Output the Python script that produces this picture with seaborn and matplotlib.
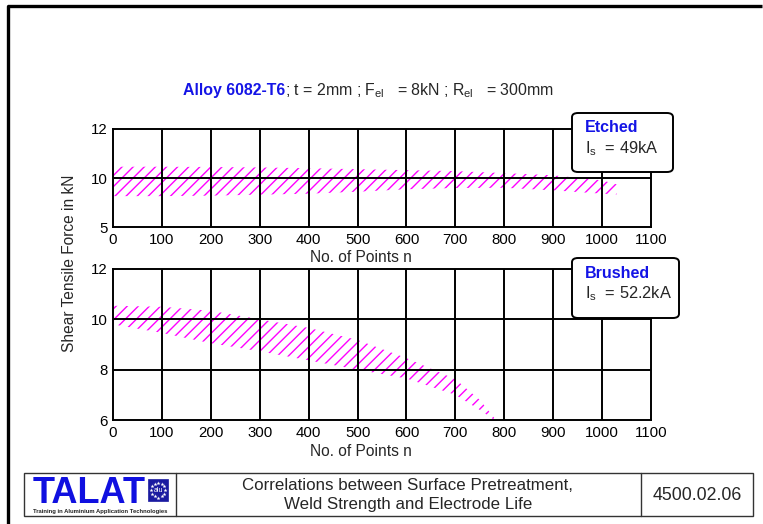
import numpy as np
import matplotlib
matplotlib.use("Agg")
import matplotlib.pyplot as plt
import seaborn as sns
from matplotlib.patches import FancyBboxPatch, Rectangle
from matplotlib.lines import Line2D

# ---- data: scatter bands of shear tensile force vs. number of spot welds ----
etched_n = [0, 100, 200, 300, 400, 500, 600, 700, 800, 900, 1000, 1030]
etched_upper = [10.46, 10.46, 10.45, 10.43, 10.40, 10.36, 10.32, 10.28, 10.20, 10.11, 9.76, 9.35]
etched_lower = [8.15, 8.15, 8.20, 8.30, 8.40, 8.60, 8.85, 8.98, 9.00, 8.74, 8.40, 8.33]

brushed_n = [0, 100, 200, 300, 400, 500, 600, 700, 750, 780]
brushed_upper = [10.54, 10.50, 10.34, 10.00, 9.66, 9.18, 8.46, 7.62, 6.80, 6.07]
brushed_lower = [9.80, 9.46, 9.05, 8.73, 8.37, 8.00, 7.65, 7.00, 6.40, 6.00]

x_ticks = list(range(0, 1101, 100))
etched_yticks = [5, 10, 12]
brushed_yticks = [6, 8, 10, 12]

W, H = 763, 524
sns.set_style("white")
plt.rcParams["font.family"] = ["Liberation Sans", "DejaVu Sans"]
plt.rcParams["mathtext.default"] = "regular"
plt.rcParams["hatch.linewidth"] = 1.0

fig = plt.figure(figsize=(W / 100, H / 100), dpi=100)


def fx(x):
    return x / W


def fy(y):
    return 1 - y / H


def axes_px(left, top, right, bottom):
    return fig.add_axes([fx(left), fy(bottom), (right - left) / W, (bottom - top) / H])


# piecewise axis used for the etched panel: 5..10 and 10..12 get equal height
def _fwd(v):
    v = np.asarray(v, dtype=float)
    return np.where(v >= 10, 1 + (v - 10) / 2, (v - 5) / 5)


def _inv(u):
    u = np.asarray(u, dtype=float)
    return np.where(u >= 1, 10 + 2 * (u - 1), 5 + 5 * u)


MAGENTA = "#ff00ff"
TICK_FS = 10.8
LABEL_FS = 11.2
HATCH = "///"


def style_axes(ax, yticks, ylim, label_y):
    ax.set_xlim(0, 1100)
    ax.set_ylim(*ylim)
    ax.set_xticks(x_ticks)
    ax.set_yticks(yticks)
    ax.tick_params(length=0, labelsize=TICK_FS, pad=4, colors="black")
    for t in x_ticks[1:-1]:
        ax.axvline(t, color="black", lw=1.4, zorder=3)
    for t in yticks[1:-1]:
        ax.axhline(t, color="black", lw=1.4, zorder=3)
    for s in ax.spines.values():
        s.set_color("black")
        s.set_linewidth(1.4)
        s.set_zorder(4)
    ax.set_xlabel("No. of Points n", fontsize=LABEL_FS)
    ax.xaxis.set_label_coords(0.46, label_y)
    ax.set_facecolor("white")


# etched panel
ax1 = axes_px(113, 129, 651, 227)
ax1.set_yscale("function", functions=(_fwd, _inv))
ax1.fill_between(etched_n, etched_lower, etched_upper, facecolor="none",
                 edgecolor=MAGENTA, hatch=HATCH, linewidth=0, zorder=2)
style_axes(ax1, etched_yticks, (5, 12), -0.235)
ax1.yaxis.set_major_formatter(matplotlib.ticker.FuncFormatter(lambda v, p: f"{v:g}"))
ax1.yaxis.set_minor_locator(matplotlib.ticker.NullLocator())

# brushed panel
ax2 = axes_px(113, 269, 651, 420)
ax2.fill_between(brushed_n, brushed_lower, brushed_upper, facecolor="none",
                 edgecolor=MAGENTA, hatch=HATCH, linewidth=0, zorder=2)
style_axes(ax2, brushed_yticks, (6, 12), -0.158)

fig.text(fx(69), fy(263), "Shear Tensile Force in kN", rotation=90,
         ha="center", va="center", fontsize=LABEL_FS)

# heading: bold alloy name followed by the welding parameters on one baseline
HEAD_FS = 11.4
t1 = fig.text(fx(183), fy(95), "Alloy 6082-T6", color="#1414e6", fontweight="bold",
              fontsize=HEAD_FS, ha="left", va="baseline")
fig.canvas.draw()
bb = t1.get_window_extent(renderer=fig.canvas.get_renderer())
fig.text(bb.x1 / fig.bbox.width, fy(95),
         "; t = 2mm ; F$_{el}$   = 8kN ; R$_{el}$   = 300mm",
         fontsize=HEAD_FS, ha="left", va="baseline")


# annotation boxes
def info_box(left, top, right, bottom, title, value):
    box = FancyBboxPatch((fx(left), fy(bottom)), (right - left) / W, (bottom - top) / H,
                         boxstyle="round,pad=0,rounding_size=0.008",
                         transform=fig.transFigure, facecolor="white",
                         edgecolor="black", linewidth=1.4, zorder=10)
    fig.patches.append(box)
    fig.text(fx(left + 13), fy(top + 15), title, color="#1414e6", fontweight="bold",
             fontsize=11.5, ha="left", va="center", zorder=11)
    fig.text(fx(left + 13), fy(top + 36), value, fontsize=11.8,
             ha="left", va="center", zorder=11)


info_box(572, 113, 673, 172, "Etched", "I$_s$  = 49kA")
info_box(572, 258, 679, 318, "Brushed", "I$_s$  = 52.2kA")

# page frame: rule along the top and down the left side
fig.lines.append(Line2D([fx(8), fx(762)], [fy(6), fy(6)], transform=fig.transFigure,
                        color="black", lw=2.4, solid_capstyle="butt"))
fig.lines.append(Line2D([fx(8), fx(8)], [fy(6), fy(524)], transform=fig.transFigure,
                        color="black", lw=2.4))

# footer
FT, FB = 473, 516
fig.patches.append(Rectangle((fx(24), fy(FB)), (753 - 24) / W, (FB - FT) / H,
                             transform=fig.transFigure, facecolor="white",
                             edgecolor="#333333", lw=1.0))
for xd in (176, 641):
    fig.lines.append(Line2D([fx(xd), fx(xd)], [fy(FT), fy(FB)], transform=fig.transFigure,
                            color="#333333", lw=1.0))
fig.text(fx(408), fy(486), "Correlations between Surface Pretreatment,",
         ha="center", va="center", fontsize=12.2)
fig.text(fx(408), fy(505), "Weld Strength and Electrode Life",
         ha="center", va="center", fontsize=12.2)
fig.text(fx(697), fy(495), "4500.02.06", ha="center", va="center", fontsize=12.8)

# TALAT logo
fig.text(fx(33), fy(503), "TALAT", color="#1010e0", fontweight="bold",
         fontsize=26, ha="left", va="baseline")
fig.patches.append(Rectangle((fx(148), fy(501)), 20 / W, 22 / H,
                             transform=fig.transFigure, facecolor="#1a1aa0",
                             edgecolor="#1a1aa0", lw=0.5))
ang = np.linspace(0, 2 * np.pi, 12, endpoint=False)
fig.lines.append(Line2D(fx(158 + 7 * np.cos(ang)), fy(490 + 7.5 * np.sin(ang)),
                        transform=fig.transFigure, ls="none", marker="*",
                        markersize=3, color="white", markeredgewidth=0))
fig.text(fx(158), fy(490.5), "alu", color="white", fontsize=5, ha="center", va="center")
fig.text(fx(100), fy(512), "Training in Aluminium Application Technologies",
         fontsize=4.2, fontweight="bold", ha="center", va="center", color="#222222")

fig.savefig("out.png", dpi=100)
